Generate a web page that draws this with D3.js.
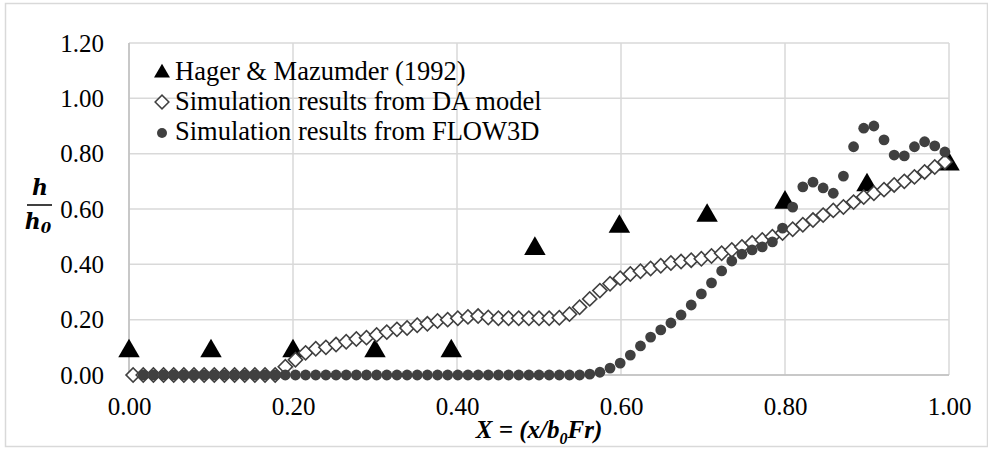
<!DOCTYPE html>
<html lang="en">
<head>
<meta charset="UTF-8">
<title>h/h0 profile</title>
<script src="https://cdn.jsdelivr.net/npm/d3@7"></script>
<style>
  body { margin: 0; background: #fff; }
  text { font-family: "Liberation Serif", "Times New Roman", serif; fill: #000; }
</style>
</head>
<body>
<div id="chart"></div>
<script>
// Hager & Mazumder (1992) measurements
const hagerX = [0.00, 0.10, 0.20, 0.30, 0.393, 0.495, 0.598, 0.705, 0.80, 0.90, 1.00];
const hagerY = [0.09, 0.09, 0.09, 0.09, 0.09, 0.46, 0.54, 0.58, 0.627, 0.69, 0.765];

// simulation grid positions (index k -> x)
const simX0 = 0.005, simStep = 0.012375;

// DA model, k = 0..80
const daY = [
  0.00, 0.00, 0.00, 0.00, 0.00, 0.00, 0.00, 0.00, 0.00, 0.00,
  0.00, 0.00, 0.00, 0.00, 0.00, 0.03, 0.055, 0.08, 0.095, 0.10,
  0.11, 0.12, 0.13, 0.135, 0.145, 0.155, 0.165, 0.17, 0.18, 0.185,
  0.195, 0.20, 0.205, 0.21, 0.213, 0.208, 0.205, 0.205, 0.205, 0.205,
  0.205, 0.205, 0.207, 0.22, 0.245, 0.275, 0.305, 0.33, 0.35, 0.365,
  0.375, 0.385, 0.395, 0.405, 0.41, 0.415, 0.42, 0.43, 0.44, 0.452,
  0.463, 0.477, 0.488, 0.50, 0.513, 0.527, 0.543, 0.56, 0.578, 0.595,
  0.607, 0.625, 0.643, 0.657, 0.67, 0.687, 0.70, 0.716, 0.734, 0.752,
  0.77
];

// FLOW3D, k = 0..80 (no point at k = 0)
const flowY = [
  null, 0.00, 0.00, 0.00, 0.00, 0.00, 0.00, 0.00, 0.00, 0.00,
  0.00, 0.00, 0.00, 0.00, 0.00, 0.00, 0.00, 0.00, 0.00, 0.00,
  0.00, 0.00, 0.00, 0.00, 0.00, 0.00, 0.00, 0.00, 0.00, 0.00,
  0.00, 0.00, 0.00, 0.00, 0.00, 0.00, 0.00, 0.00, 0.00, 0.00,
  0.00, 0.00, 0.00, 0.00, 0.00, 0.003, 0.01, 0.025, 0.043, 0.072,
  0.105, 0.137, 0.163, 0.188, 0.217, 0.253, 0.293, 0.333, 0.376, 0.412,
  0.437, 0.452, 0.463, 0.481, 0.531, 0.607, 0.68, 0.697, 0.676, 0.657,
  0.719, 0.825, 0.892, 0.90, 0.85, 0.795, 0.792, 0.825, 0.843, 0.828,
  0.806
];

const xTicks = [0, 0.2, 0.4, 0.6, 0.8, 1.0];
const yTicks = [0, 0.2, 0.4, 0.6, 0.8, 1.0, 1.2];
const legendLabels = ["Hager & Mazumder (1992)", "Simulation results from DA model", "Simulation results from FLOW3D"];

const width = 988, height = 449;
const margin = {left: 129, right: 39, top: 43, bottom: 74};
const serif = '"Liberation Serif", "Times New Roman", serif';

const svg = d3.select("#chart").append("svg")
  .attr("width", width)
  .attr("height", height);

// outer frame
svg.append("rect")
  .attr("x", 5.5).attr("y", 3.5)
  .attr("width", 982).attr("height", 443)
  .attr("fill", "#fff")
  .attr("stroke", "#d9d9d9")
  .attr("stroke-width", 1.5);

const x = d3.scaleLinear().domain([0, 1]).range([margin.left, width - margin.right]);
const y = d3.scaleLinear().domain([0, 1.2]).range([height - margin.bottom, margin.top]);

// grid
const grid = svg.append("g");
grid.selectAll(".gy").data(yTicks).enter().append("line")
  .attr("x1", x(0)).attr("x2", x(1))
  .attr("y1", d => y(d)).attr("y2", d => y(d))
  .attr("stroke", "#d9d9d9").attr("stroke-width", 1.5);
grid.selectAll(".gx").data(xTicks).enter().append("line")
  .attr("x1", d => x(d)).attr("x2", d => x(d))
  .attr("y1", y(0)).attr("y2", y(1.2))
  .attr("stroke", "#d9d9d9").attr("stroke-width", 1.5);

// axis lines
svg.append("line")
  .attr("x1", x(0)).attr("x2", x(0)).attr("y1", y(0)).attr("y2", y(1.2))
  .attr("stroke", "#bfbfbf").attr("stroke-width", 1.5);
svg.append("line")
  .attr("x1", x(0)).attr("x2", x(1)).attr("y1", y(0)).attr("y2", y(0))
  .attr("stroke", "#bfbfbf").attr("stroke-width", 1.5);

// tick labels
const yAxis = d3.axisLeft(y).tickValues(yTicks).tickFormat(d3.format(".2f")).tickSize(0).tickPadding(25);
const gy = svg.append("g").attr("transform", `translate(${x(0)},0)`).call(yAxis);
gy.attr("font-family", null);
gy.select(".domain").remove();
gy.selectAll("text")
  .style("font-family", serif)
  .style("font-size", "25px").attr("fill", "#000");

const xAxis = d3.axisBottom(x).tickValues(xTicks).tickFormat(d3.format(".2f")).tickSize(0).tickPadding(22);
const gx = svg.append("g").attr("transform", `translate(0,${y(0)})`).call(xAxis);
gx.attr("font-family", null);
gx.select(".domain").remove();
gx.selectAll("text")
  .style("font-family", serif)
  .style("font-size", "25px").attr("fill", "#000");

// axis titles
const xt = svg.append("text")
  .attr("x", (x(0) + x(1)) / 2).attr("y", 438)
  .attr("text-anchor", "middle")
  .style("font-family", serif)
  .style("font-size", "25px").style("font-weight", "bold").style("font-style", "italic");
xt.append("tspan").text("X = (x/b");
xt.append("tspan").text("0").attr("dy", 6).style("font-size", "16px");
xt.append("tspan").text("Fr)").attr("dy", -6);

const yl = svg.append("g").attr("transform", "translate(40,0)");
yl.append("text").attr("x", 0).attr("y", 195).attr("text-anchor", "middle")
  .style("font-family", '"DejaVu Serif", serif')
  .style("font-size", "22px").style("font-weight", "bold").style("font-style", "italic")
  .text("h");
yl.append("line").attr("x1", -13).attr("x2", 12).attr("y1", 205).attr("y2", 205)
  .attr("stroke", "#000").attr("stroke-width", 1.5);
const h0 = yl.append("text").attr("x", -2).attr("y", 229).attr("text-anchor", "middle")
  .style("font-family", '"DejaVu Serif", serif')
  .style("font-size", "22px").style("font-weight", "bold").style("font-style", "italic");
h0.append("tspan").text("h");
h0.append("tspan").text("0").attr("dy", 4).style("font-size", "15px");

// markers
const tri = d3.symbol().type(d3.symbolTriangle).size(200);
const dia = d3.symbol().type(d3.symbolSquare).size(100);

const hager = hagerX.map((d, i) => ({x: d, y: hagerY[i]}));
const da = daY.map((d, k) => ({x: simX0 + k * simStep, y: d}));
const flow = flowY.map((d, k) => ({x: simX0 + k * simStep, y: d})).filter(d => d.y !== null);

svg.append("g").selectAll("path").data(hager).enter().append("path")
  .attr("d", tri)
  .attr("transform", d => `translate(${x(d.x)},${y(d.y) + 1})`)
  .attr("fill", "#000");

svg.append("g").selectAll("path").data(da).enter().append("path")
  .attr("d", dia)
  .attr("transform", d => `translate(${x(d.x)},${y(d.y)}) rotate(45)`)
  .attr("fill", "#fff").attr("stroke", "#404040").attr("stroke-width", 1.6);

svg.append("g").selectAll("circle").data(flow).enter().append("circle")
  .attr("cx", d => x(d.x)).attr("cy", d => y(d.y))
  .attr("r", 5.4)
  .attr("fill", "#404040");

// legend
const legend = svg.append("g");
const rows = [80, 110, 140];
legend.append("path").attr("d", d3.symbol().type(d3.symbolTriangle).size(110))
  .attr("transform", `translate(162,${rows[0] - 7})`).attr("fill", "#000");
legend.append("path").attr("d", d3.symbol().type(d3.symbolSquare).size(95))
  .attr("transform", `translate(162,${rows[1] - 8}) rotate(45)`)
  .attr("fill", "#fff").attr("stroke", "#404040").attr("stroke-width", 1.5);
legend.append("circle").attr("cx", 162).attr("cy", rows[2] - 7).attr("r", 5)
  .attr("fill", "#404040");
legend.selectAll("text").data(legendLabels).enter().append("text")
  .attr("x", 175).attr("y", (d, i) => rows[i])
  .style("font-family", serif)
  .style("font-size", "26.5px")
  .text(d => d);
</script>
</body>
</html>
